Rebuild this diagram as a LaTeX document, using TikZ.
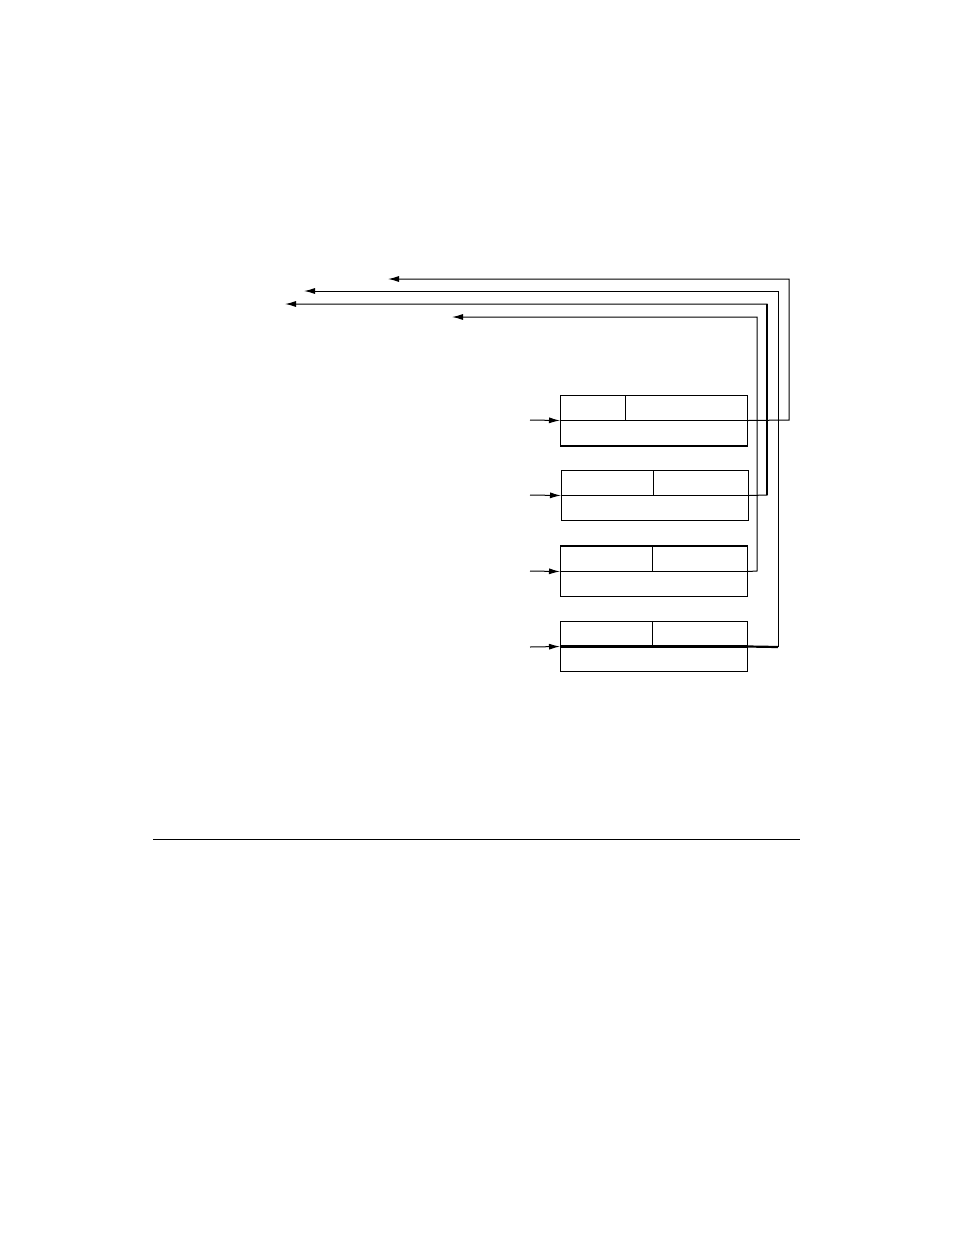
\documentclass[tikz,border=0pt]{standalone}
\usetikzlibrary{arrows.meta}
\begin{document}
\begin{tikzpicture}[x=1pt,y=-1pt,line width=1pt,>={Latex[length=11pt,width=6pt]}]
      \useasboundingbox (0,0) rectangle (954,1235);
      \begin{scope}[every node/.style={draw,rectangle,anchor=north west,inner sep=0pt,minimum width=187pt,minimum height=50pt}]
        \node (r1) at (560,395) {};
        \node (r2) at (561,470) {};
        \node (r3) at (560,546) {};
        \node (r4) at (560,621) {};
      \end{scope}
      % halves of each box
      \draw (r1.west) -- (r1.east);
      \draw (r2.west) -- (r2.east);
      \draw (r3.west) -- (r3.east);
      \draw[line width=2.2pt] (r4.west) -- (r4.east);
      \draw (r1.north west) ++(65,0) -- ++(0,25);
      \draw (r2.north west) ++(92,0) -- ++(0,25);
      \draw (r3.north west) ++(92,0) -- ++(0,25);
      \draw (r4.north west) ++(92,0) -- ++(0,25);
      \draw[line width=2.2pt] (r1.south west) -- (r1.south east);
      \draw[line width=2.2pt] (r3.north west) -- (r3.north east);
      % inputs
      \coordinate (in1) at (530,420);
      \coordinate (in2) at (530,495);
      \coordinate (in3) at (530,571);
      \coordinate (in4) at (530,647);
      \draw[->] (in1) -- (r1.west);
      \draw[->] (in2) -- (r2.west);
      \draw[->] (in3) -- (r3.west);
      \draw[->] (in4) -- (r4.west);
      % feedback
      \coordinate (out1) at (388,279);
      \coordinate (out2) at (285,304);
      \coordinate (out3) at (452,317);
      \coordinate (out4) at (304,291);
      \draw[->] (r1.east) -- (789,420) |- (out1);
      \draw[->] (r2.east) -- (767,495) |- (out2);
      \draw[line width=2.2pt] (767,304) -- (767,495);
      \draw[->] (r3.east) -- (757,571) |- (out3);
      \draw[line width=2.2pt] (r4.east) -- (778,647);
      \draw[->] (778,647) |- (out4);
      % rule
      \coordinate (ruleL) at (153,839);
      \coordinate (ruleR) at (800,839);
      \draw (ruleL) -- (ruleR);
    \end{tikzpicture}
\end{document}
